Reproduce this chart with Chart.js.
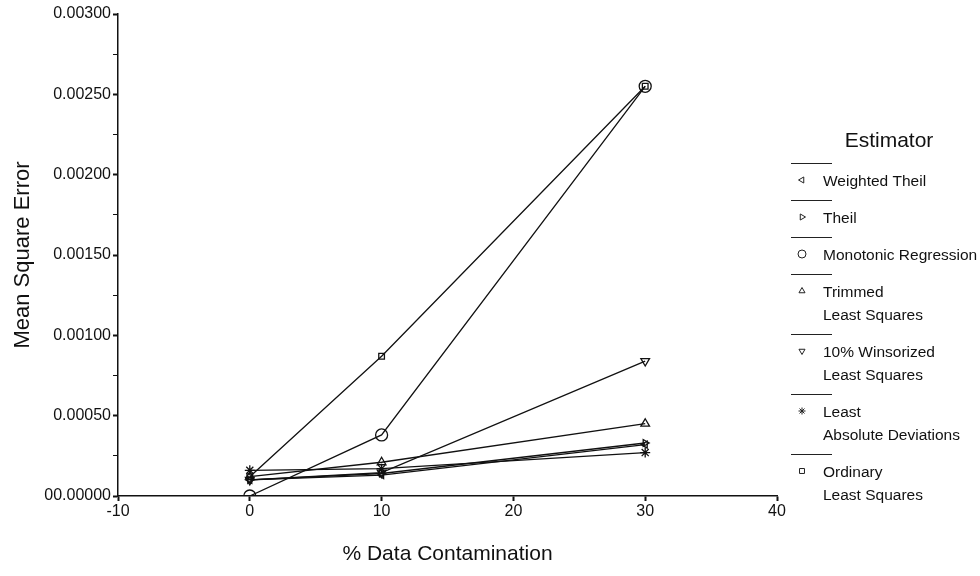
<!DOCTYPE html>
<html>
<head>
<meta charset="utf-8">
<script src="https://cdn.jsdelivr.net/npm/chart.js@4.4.0/dist/chart.umd.min.js"></script>
<style>
  html, body { margin: 0; padding: 0; background: #fff; }
  #wrap { width: 980px; height: 576px; }
</style>
</head>
<body>
<div id="wrap"><canvas id="mseChart" width="980" height="576"></canvas></div>
<script>
// values
var contamination = [0, 10, 30];
var weightedTheil = [0.00010, 0.00013, 0.00032];
var theil = [0.00010, 0.00014, 0.00033];
var monotonic = [0.00000, 0.00038, 0.00255];
var trimmed = [0.00012, 0.00021, 0.00045];
var winsorized = [0.00010, 0.000145, 0.00084];
var leastAbs = [0.00016, 0.00017, 0.00027];
var ordinary = [0.00012, 0.00087, 0.00255];

var xTicks = [-10, 0, 10, 20, 30, 40];
var yMax = 0.003;

var estimators = [
    { label: ['Weighted Theil'], values: weightedTheil, style: 'triangle', rot: -90, r: 4 },
    { label: ['Theil'], values: theil, style: 'triangle', rot: 90, r: 4 },
    { label: ['Monotonic Regression'], values: monotonic, style: 'circle', rot: 0, r: 6 },
    { label: ['Trimmed', 'Least Squares'], values: trimmed, style: 'triangle', rot: 0, r: 5 },
    { label: ['10% Winsorized', 'Least Squares'], values: winsorized, style: 'triangle', rot: 180, r: 5 },
    { label: ['Least', 'Absolute Deviations'], values: leastAbs, style: 'star', rot: 0, r: 5 },
    { label: ['Ordinary', 'Least Squares'], values: ordinary, style: 'rect', rot: 0, r: 4 }
];

function toPoints(vals) {
    return contamination.map(function(x, i) { return { x: x, y: vals[i] }; });
}

var FONT = '"Liberation Sans", Arial, sans-serif';

// legend on the right, drawn on the canvas
var sideLegend = {
    id: 'sideLegend',
    afterDraw: function(chart) {
        var ctx = chart.ctx;
        ctx.save();
        ctx.fillStyle = '#111';
        ctx.font = '21px ' + FONT;
        ctx.textAlign = 'center';
        ctx.textBaseline = 'middle';
        ctx.fillText('Estimator', 889, 141);
        ctx.font = '15.5px ' + FONT;
        ctx.textAlign = 'left';
        var y = 163;
        estimators.forEach(function(est) {
            ctx.strokeStyle = '#222';
            ctx.lineWidth = 1;
            ctx.beginPath();
            ctx.moveTo(791, y + 0.5);
            ctx.lineTo(832, y + 0.5);
            ctx.stroke();
            var ty = y + 19;
            ctx.fillStyle = 'rgba(0,0,0,0)';
            Chart.helpers.drawPoint(ctx, {
                pointStyle: est.style, rotation: est.rot,
                radius: est.style === 'circle' ? 4 : 3.5, borderWidth: 1.2
            }, 802, ty - 2);
            ctx.fillStyle = '#111';
            est.label.forEach(function(line, k) {
                ctx.fillText(line, 823, ty + k * 23);
            });
            y += 37 + 23 * (est.label.length - 1);
        });
        ctx.restore();
    }
};

document.addEventListener('DOMContentLoaded', function() {
    var ctx = document.getElementById('mseChart').getContext('2d');
    var datasets = estimators.map(function(est) {
        return {
            label: est.label.join(' '),
            data: toPoints(est.values),
            showLine: true,
            borderColor: '#111',
            borderWidth: 1.3,
            backgroundColor: 'rgba(0,0,0,0)',
            pointStyle: est.style,
            pointRotation: est.rot,
            pointRadius: est.r,
            pointBorderWidth: 1.3,
            pointBorderColor: '#111',
            tension: 0
        };
    });

    new Chart(ctx, {
        type: 'scatter',
        data: { datasets: datasets },
        plugins: [sideLegend],
        options: {
            responsive: false,
            animation: false,
            layout: { padding: { top: 14, right: 203, left: 0, bottom: 0 } },
            plugins: {
                legend: { display: false },
                tooltip: { enabled: false }
            },
            scales: {
                x: {
                    type: 'linear',
                    min: -10,
                    max: 40,
                    afterBuildTicks: function(scale) {
                        scale.ticks = xTicks.map(function(v) { return { value: v }; });
                    },
                    afterFit: function(scale) { scale.height = 80; },
                    grid: { display: true, drawOnChartArea: false, drawTicks: true, tickLength: 5, tickColor: '#111', tickWidth: 2 },
                    border: { display: true, color: '#111', width: 1.5 },
                    ticks: { color: '#111', font: { family: FONT, size: 16 }, padding: 1 },
                    title: {
                        display: true,
                        text: '% Data Contamination',
                        color: '#111',
                        font: { family: FONT, size: 21 },
                        padding: { top: 0, bottom: 9 }
                    }
                },
                y: {
                    min: 0,
                    max: yMax,
                    afterFit: function(scale) { scale.width = 118; },
                    grid: {
                        display: true,
                        drawOnChartArea: false,
                        drawTicks: true,
                        tickLength: 5,
                        tickColor: '#111',
                        tickWidth: function(c) { return c.index % 2 === 0 ? 2 : 1; }
                    },
                    border: { display: true, color: '#111', width: 1.5 },
                    ticks: {
                        stepSize: 0.00025,
                        color: '#111',
                        font: { family: FONT, size: 16 },
                        padding: 2,
                        callback: function(value, index) {
                            if (index % 2 !== 0) return '';
                            if (value === 0) return '00.00000';
                            return value.toFixed(5);
                        }
                    },
                    title: {
                        display: true,
                        text: 'Mean Square Error',
                        color: '#111',
                        font: { family: FONT, size: 22 },
                        padding: { top: 10, bottom: 0 }
                    }
                }
            }
        }
    });
});
</script>
</body>
</html>
